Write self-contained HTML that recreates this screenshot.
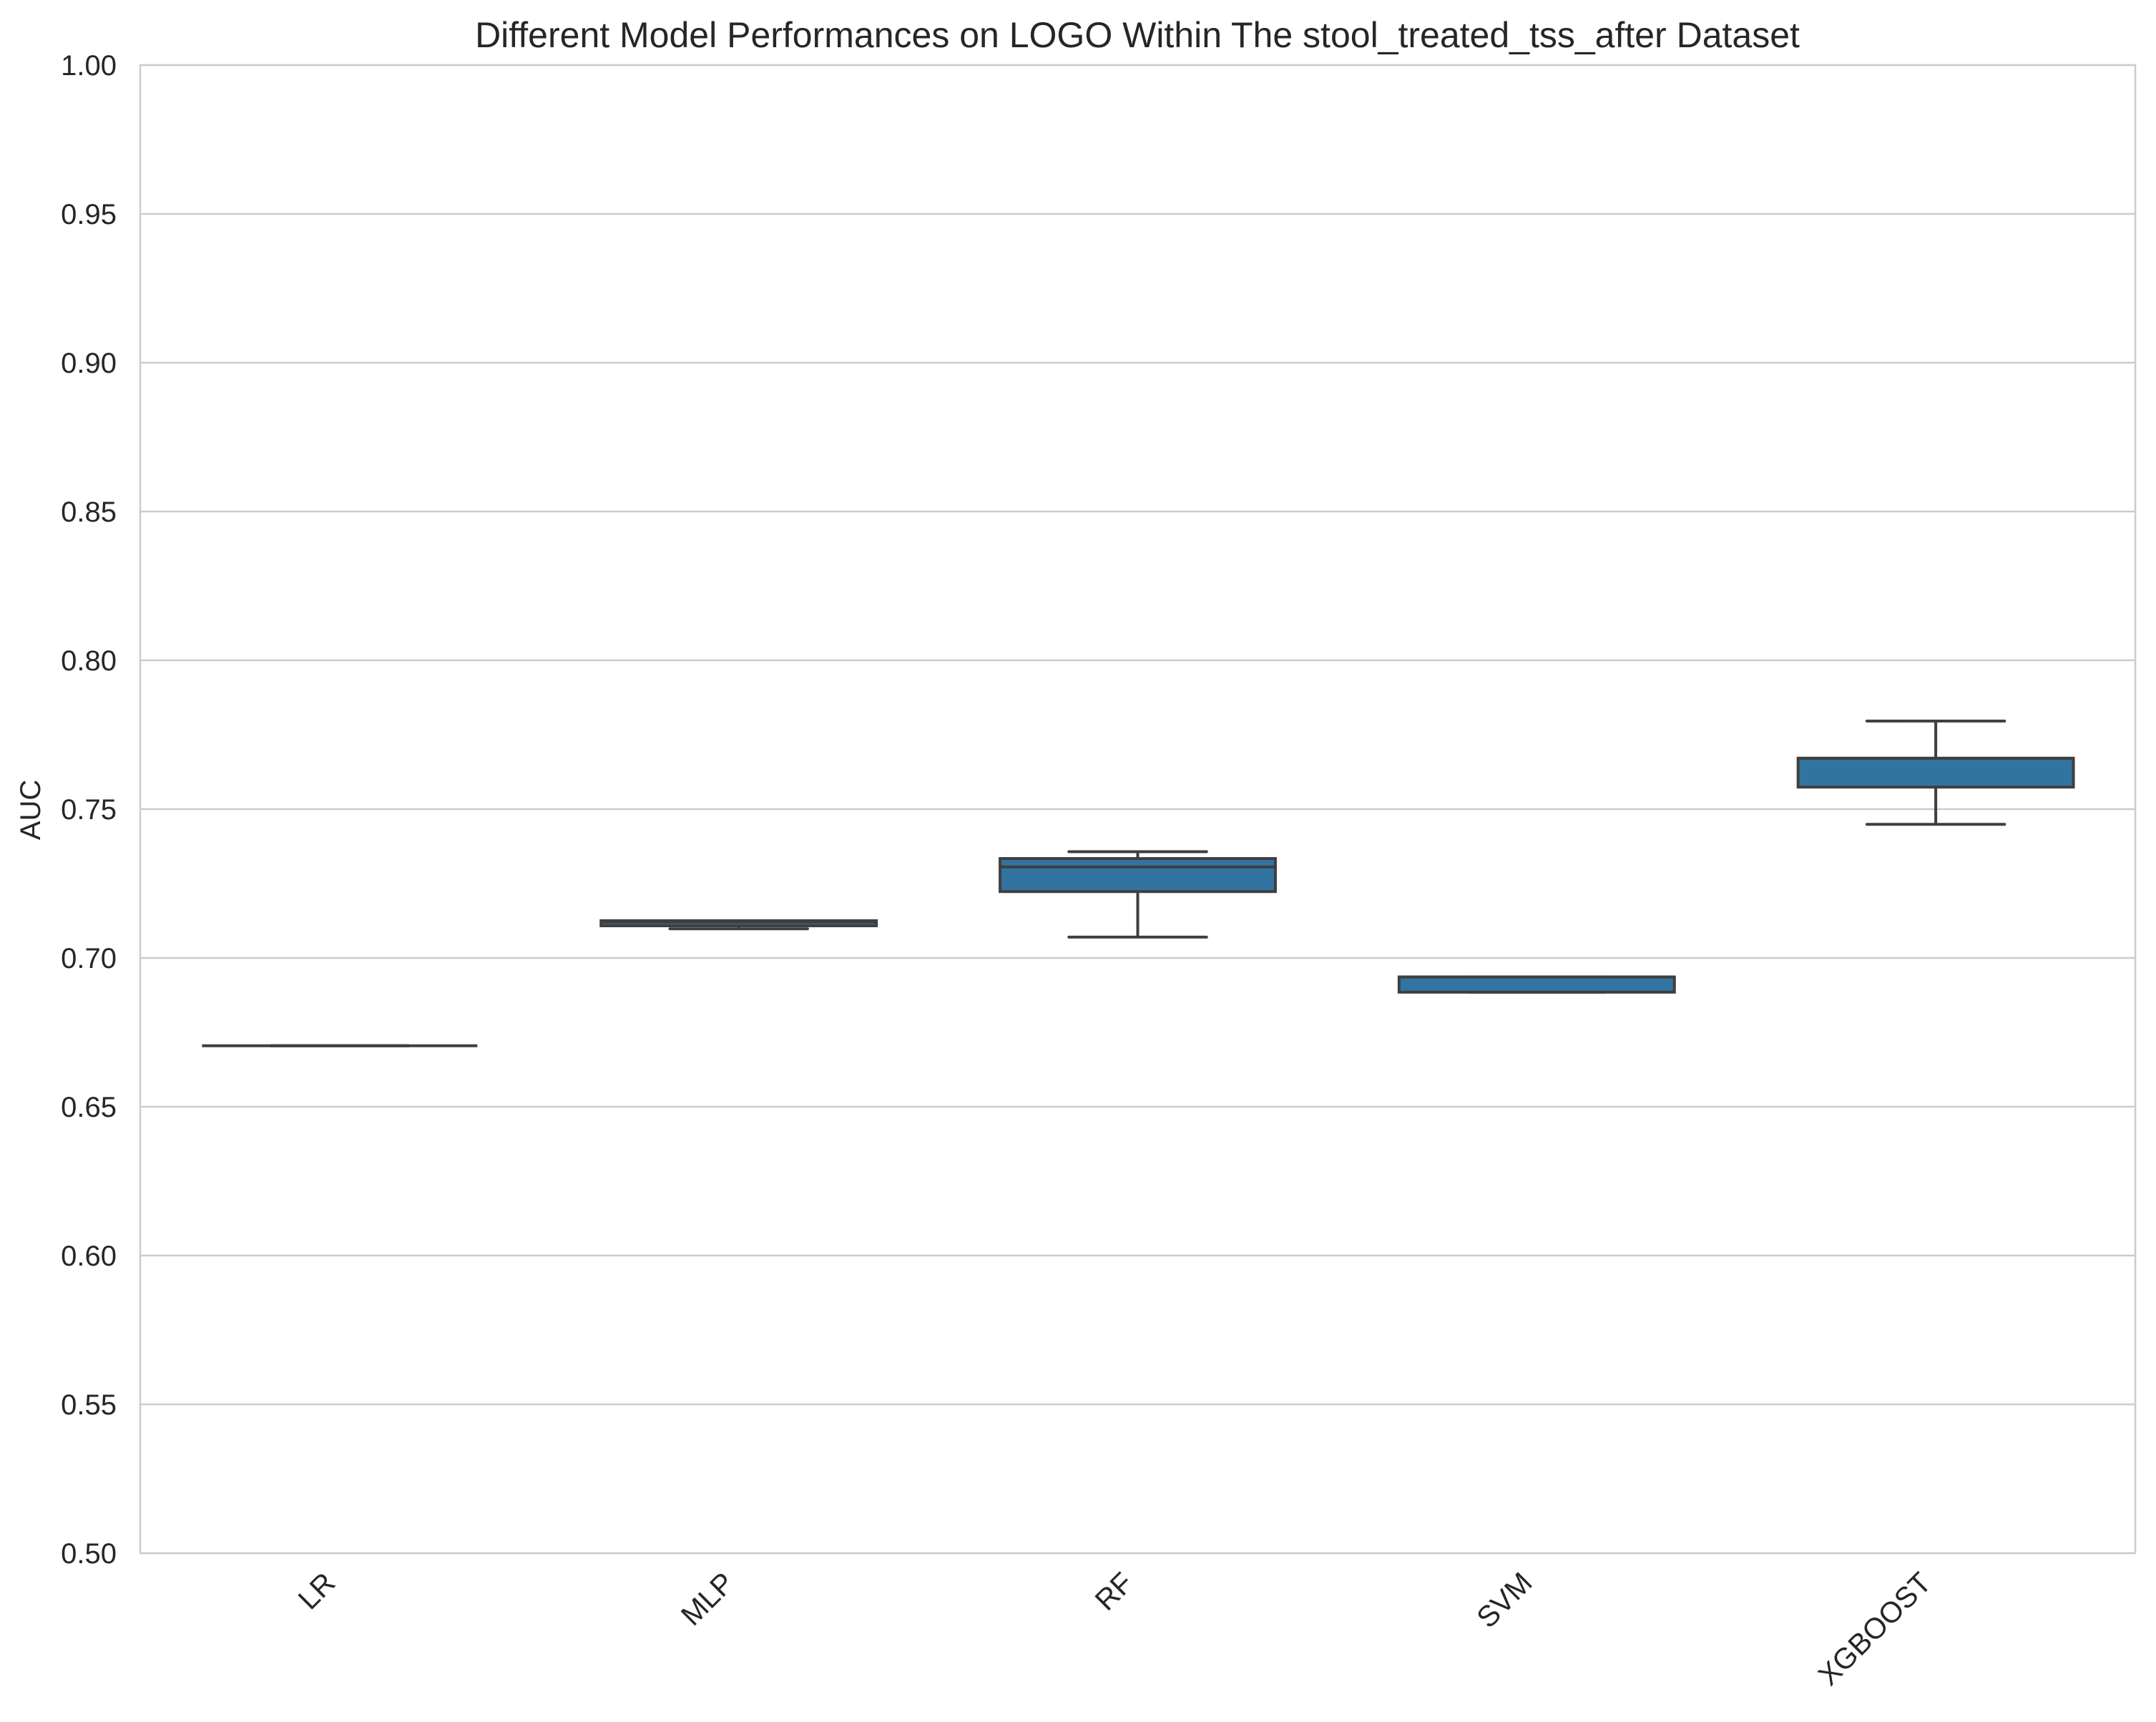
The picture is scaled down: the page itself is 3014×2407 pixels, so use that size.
<!DOCTYPE html>
<html><head><meta charset="utf-8"><style>
html,body{margin:0;padding:0;background:#fff;}
svg text{font-family:"Liberation Sans",Arial,sans-serif;fill:#262626;}
</style></head><body>
<svg id="chart" width="3014" height="2402" viewBox="0 0 3014 2402" xmlns="http://www.w3.org/2000/svg">
<rect width="3014" height="2402" fill="#fff"/>
<g id="grid"></g>
<g id="boxes"></g>
<g id="axes"></g>
<text x="1590" y="66" font-size="50" text-anchor="middle">Different Model Performances on LOGO Within The stool_treated_tss_after Dataset</text>
<text transform="translate(56,1132) rotate(-90)" font-size="40" text-anchor="middle">AUC</text>
</svg>
<script>
const categories = ["LR","MLP","RF","SVM","XGBOOST"];
const whiskerLow = [0.6705,0.7098,0.7070,0.6885,0.7449];
const q1Values = [0.6705,0.7108,0.7223,0.6885,0.7574];
const medianValues = [0.6705,0.7120,0.7306,0.6936,0.7671];
const q3Values = [0.6705,0.7125,0.7334,0.6936,0.7671];
const whiskerHigh = [0.6705,0.7125,0.7357,0.6936,0.7796];
const yTicks = [0.50,0.55,0.60,0.65,0.70,0.75,0.80,0.85,0.90,0.95,1.00];

const NS="http://www.w3.org/2000/svg";
const L=196,R=2985,T=91,B=2171;
const yMin=0.5,yMax=1.0;
const y=v=>B-(v-yMin)/(yMax-yMin)*(B-T);
const band=(R-L)/categories.length;
const xc=i=>L+band*(i+0.5);
function mk(tag,attrs,parent){const e=document.createElementNS(NS,tag);for(const k in attrs)e.setAttribute(k,attrs[k]);parent.appendChild(e);return e;}
const grid=document.getElementById('grid'),boxes=document.getElementById('boxes'),axes=document.getElementById('axes');

yTicks.forEach(t=>{
  const g=mk('line',{x1:L,x2:R,y1:y(t),y2:y(t),stroke:'#cccccc','stroke-width':2.5},grid);
  
  
  const tx=mk('text',{x:163,y:y(t)+14,'font-size':40,'text-anchor':'end'},axes);
  tx.textContent=t.toFixed(2);
  
  
});
const frame=mk('rect',{x:L,y:T,width:R-L,height:B-T,fill:'none',stroke:'#cccccc','stroke-width':2.5},axes);



const bw=band*0.69, cw=band*0.345, ec='#3f3f3f', sw=4;
categories.forEach((c,i)=>{
  const x=xc(i);
  const g=mk('g',{},boxes);
  
  
  mk('line',{x1:x,x2:x,y1:y(whiskerLow[i]),y2:y(q1Values[i]),stroke:ec,'stroke-width':sw},g);
  mk('line',{x1:x,x2:x,y1:y(q3Values[i]),y2:y(whiskerHigh[i]),stroke:ec,'stroke-width':sw},g);
  mk('line',{x1:x-cw/2,x2:x+cw/2,y1:y(whiskerLow[i]),y2:y(whiskerLow[i]),stroke:ec,'stroke-width':sw,'stroke-linecap':'round'},g);
  mk('line',{x1:x-cw/2,x2:x+cw/2,y1:y(whiskerHigh[i]),y2:y(whiskerHigh[i]),stroke:ec,'stroke-width':sw,'stroke-linecap':'round'},g);
  const h=Math.max(0,y(q1Values[i])-y(q3Values[i]));
  mk('rect',{x:x-bw/2,y:y(q3Values[i]),width:bw,height:h,fill:'#3274a1',stroke:ec,'stroke-width':sw},g);
  mk('line',{x1:x-bw/2,x2:x+bw/2,y1:y(medianValues[i]),y2:y(medianValues[i]),stroke:ec,'stroke-width':sw},g);
  const tx=mk('text',{'font-size':41,'text-anchor':'end',transform:`translate(${x-4},${B+44}) rotate(-45)`},axes);
  tx.textContent=c;
  
  
});
</script>
</body></html>
